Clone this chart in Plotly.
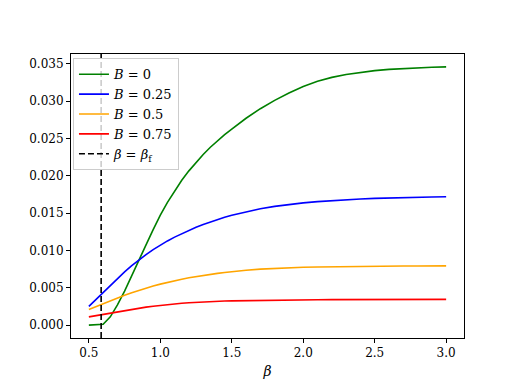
import plotly.graph_objects as go

beta = [0.50, 0.55, 0.60, 0.65, 0.70, 0.75, 0.80, 0.85, 0.90, 0.95, 1.00, 1.05, 1.10, 1.15,
        1.20, 1.25, 1.30, 1.35, 1.40, 1.45, 1.50, 1.6, 1.7, 1.8, 1.9, 2.0, 2.1, 2.2, 2.3, 2.4,
        2.5, 2.6, 2.7, 2.8, 2.9, 3.0]
g_B0 = [0.0, 0.0, 0.0001, 0.0011, 0.0027, 0.00455, 0.00655, 0.00865, 0.01075, 0.0128, 0.01475,
        0.01645, 0.0180, 0.0194, 0.02067, 0.02182, 0.02287, 0.02383, 0.02471, 0.02552, 0.02627,
        0.02772, 0.0290, 0.03012, 0.03111, 0.03197, 0.03267, 0.033195, 0.033585, 0.03388,
        0.0341, 0.03427, 0.03439, 0.03448, 0.03455, 0.0346]
g_B025 = [0.0025, 0.00345, 0.0044, 0.00534, 0.00626, 0.00714, 0.00796, 0.00873, 0.00945,
          0.01012, 0.01072, 0.01128, 0.01179, 0.01226, 0.0127, 0.01311, 0.01349, 0.01384,
          0.01416, 0.01445, 0.01471, 0.01519, 0.01559, 0.01591, 0.01617, 0.01638, 0.01655,
          0.01669, 0.016805, 0.0169, 0.01698, 0.017045, 0.017095, 0.017135, 0.017165, 0.01719]
g_B05 = [0.0021, 0.0025, 0.00288, 0.00326, 0.00363, 0.00399, 0.00433, 0.00465, 0.00495,
         0.00523, 0.00549, 0.00573, 0.00595, 0.00615, 0.006335, 0.006505, 0.00666, 0.0068,
         0.00693, 0.00705, 0.00716, 0.00735, 0.007495, 0.007605, 0.007685, 0.007745, 0.00779,
         0.007825, 0.007853, 0.007875, 0.007892, 0.007905, 0.007915, 0.007923, 0.007929,
         0.007934]
g_B075 = [0.00110, 0.001275, 0.00145, 0.001623, 0.001793, 0.001958, 0.002116, 0.002266,
          0.002406, 0.002536, 0.002656, 0.002756, 0.002846, 0.002926, 0.002996, 0.003056,
          0.003108, 0.003152, 0.003189, 0.00322, 0.003246, 0.003286, 0.003319, 0.003346,
          0.003368, 0.003386, 0.0034, 0.003411, 0.00342, 0.003427, 0.0034325, 0.003437,
          0.0034405, 0.0034433, 0.0034455, 0.0034473]
beta_f = 0.586

series = [
    ("<i>B</i> = 0", g_B0, "green"),
    ("<i>B</i> = 0.25", g_B025, "blue"),
    ("<i>B</i> = 0.5", g_B05, "orange"),
    ("<i>B</i> = 0.75", g_B075, "red"),
]

x_tick_vals = [0.5, 1.0, 1.5, 2.0, 2.5, 3.0]
y_tick_vals = [0.0, 0.005, 0.01, 0.015, 0.02, 0.025, 0.03, 0.035]

ymax = max(g_B0)
ymin = 0.0
pad = 0.05 * (ymax - ymin)
y_range = [ymin - pad, ymax + pad]
x_range = [0.5 - 0.125, 3.0 + 0.125]

FONT = "DejaVu Serif"

fig = go.Figure()
for name, vals, col in series:
    fig.add_trace(go.Scatter(x=beta, y=vals, mode="lines", name=name,
                             line=dict(color=col, width=1.6, shape="linear")))
fig.add_trace(go.Scatter(x=[beta_f, beta_f], y=y_range, mode="lines",
                         name="<i>β</i> = <i>β</i><sub>f</sub>",
                         line=dict(color="black", width=1.6, dash="6px,3px")))

fig.update_layout(
    width=507, height=380,
    margin=dict(l=63.4, r=50.7, t=45.6, b=41.8),
    paper_bgcolor="white", plot_bgcolor="white",
    font=dict(family=FONT, size=12, color="black"),
    showlegend=True,
    legend=dict(x=0.005, y=0.985, xanchor="left", yanchor="top",
                bgcolor="rgba(255,255,255,0.8)", bordercolor="#cccccc", borderwidth=1,
                font=dict(family=FONT, size=13), tracegroupgap=0),
)
fig.update_xaxes(range=x_range, tickvals=x_tick_vals, ticktext=[f"{v:.1f}" for v in x_tick_vals],
                 ticks="outside", ticklen=4, tickwidth=1, tickcolor="black",
                 showline=True, linecolor="black", linewidth=1, mirror=True,
                 showgrid=False, zeroline=False,
                 title=dict(text="<i>β</i>", font=dict(family=FONT, size=14), standoff=6),
                 tickfont=dict(family=FONT, size=12))
fig.update_yaxes(range=y_range, tickvals=y_tick_vals, ticktext=[f"{v:.3f}" for v in y_tick_vals],
                 ticks="outside", ticklen=4, tickwidth=1, tickcolor="black",
                 showline=True, linecolor="black", linewidth=1, mirror=True,
                 showgrid=False, zeroline=False,
                 tickfont=dict(family=FONT, size=12))

fig.write_html("out.html")
